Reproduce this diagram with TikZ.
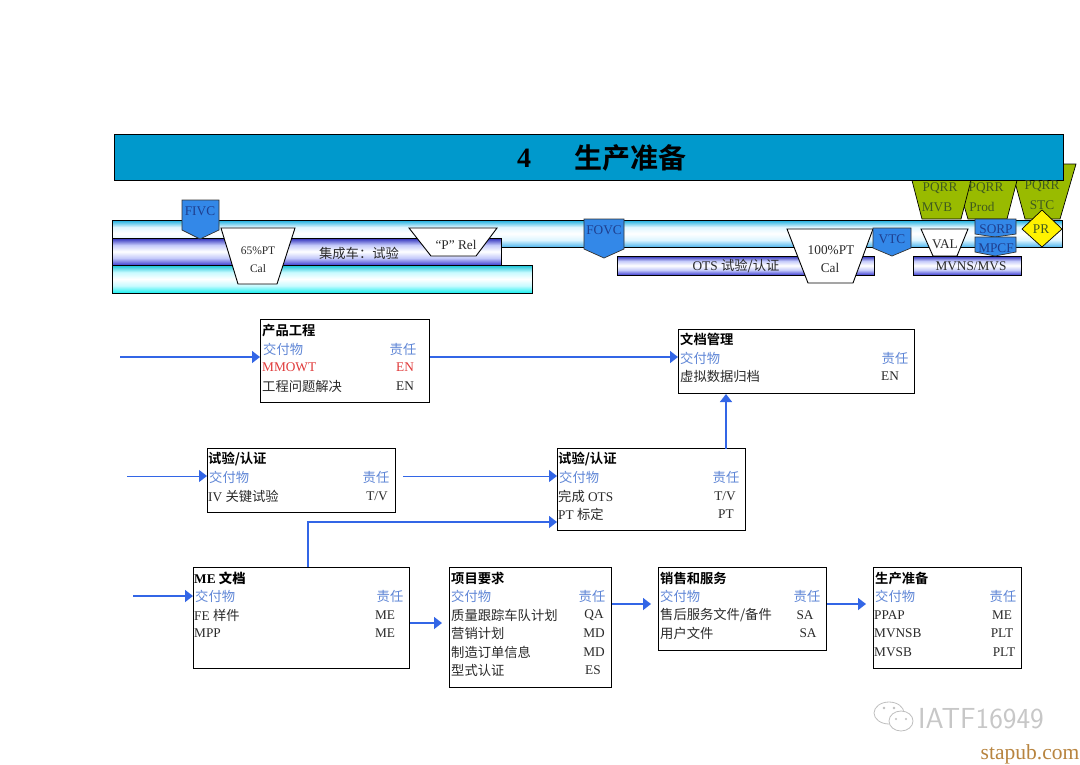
\documentclass[tikz,border=0pt]{standalone}
\usepackage{fontspec}
\usetikzlibrary{arrows.meta,calc}
\setmainfont{Liberation Serif}
\newfontfamily\cjk{Noto Sans CJK SC}
\newfontfamily\cjkb{Noto Sans CJK SC Bold}
\newcommand{\C}[1]{{\cjk #1}}
\newcommand{\CB}[1]{{\cjkb #1}}
\definecolor{titleblue}{HTML}{0099CC}
\definecolor{chipblue}{HTML}{3388E8}
\definecolor{chiptext}{HTML}{1F3F8F}
\definecolor{pqgreen}{HTML}{99BB00}
\definecolor{pqtext}{HTML}{3F5A1F}
\definecolor{arrowblue}{HTML}{3366E6}
\definecolor{headblue}{HTML}{5F86D6}
\definecolor{mmred}{HTML}{E03A3A}
\definecolor{bodygrey}{HTML}{2A2A2A}
\definecolor{stapubbrown}{HTML}{B8843F}
\definecolor{barA}{HTML}{14ACDE}
\definecolor{barB}{HTML}{4FB6EE}
\definecolor{barC}{HTML}{DDF5FF}
\definecolor{barD}{HTML}{2828B8}
\definecolor{barE}{HTML}{4040D2}
\definecolor{barF}{HTML}{C4CAFA}
\definecolor{barG}{HTML}{10C0D4}
\definecolor{barH}{HTML}{18F0F0}
\definecolor{barI}{HTML}{C8FAFF}
\pgfdeclareverticalshading{barsky}{100bp}{color(0bp)=(barB);color(25bp)=(barB);color(38bp)=(barC);color(50bp)=(white);color(62bp)=(barC);color(75bp)=(barA);color(100bp)=(barA)}
\pgfdeclareverticalshading{barviolet}{100bp}{color(0bp)=(barE);color(25bp)=(barE);color(38bp)=(barF);color(50bp)=(white);color(62bp)=(barF);color(75bp)=(barD);color(100bp)=(barD)}
\pgfdeclareverticalshading{barcyan}{100bp}{color(0bp)=(barH);color(25bp)=(barH);color(38bp)=(barI);color(50bp)=(white);color(62bp)=(barI);color(75bp)=(barG);color(100bp)=(barG)}
\newcount\tcnt
\newcommand{\TX}[4][]{\global\advance\tcnt by 1 \node[txt,#1] (t\the\tcnt) at (#2,#3) {#4};}
\newcommand{\TL}[4][bodygrey]{\global\advance\tcnt by 1 \node[txt,anchor=west,text=#1] (t\the\tcnt) at (#2,#3) {#4};}
\tikzset{
 txt/.style={inner sep=0pt,font=\fontsize{13.3}{15}\selectfont},
 barshape/.style={draw=black,line width=.9pt},
 flow/.style={draw=black,line width=1pt,fill=white,inner sep=0pt},
 chip/.style={draw=black!80,line width=.7pt,fill=chipblue},
 trap/.style={draw=black,line width=.9pt,fill=white},
 pq/.style={draw=black,line width=.7pt,fill=pqgreen},
 link/.style={draw=arrowblue,line width=1.5pt,-{Triangle[length=8pt,width=12pt]}},
 linkthin/.style={draw=arrowblue,line width=1pt,-{Triangle[length=8pt,width=12pt]}},
 gapped/.style={shorten >=7pt},
}
\begin{document}
\begin{tikzpicture}[x=1pt,y=-1pt]
\useasboundingbox[fill=white] (0,0) rectangle (1080,764);
% PQRR behind title
\draw[pq] (1010,164) -- (1076,164) -- (1060,219) -- (1025,219) -- cycle;
\draw[pq] (952,165) -- (1021,165) -- (1007,219) -- (968,219) -- cycle;
\draw[pq] (908,165) -- (975,165) -- (961,219) -- (922,219) -- cycle;
% title
\node[draw=black,line width=.8pt,fill=titleblue,minimum width=949.5pt,minimum height=46.5pt,inner sep=0pt] (title) at (589,157.3) {};
\TX[font=\fontsize{28}{30}\selectfont\bfseries]{524}{158}{4}
\TX[font=\fontsize{28}{30}\selectfont]{630}{158}{\CB{生产准备}}
% bars
\path[barshape,shading=barsky] (112.5,220) rectangle (1062.5,247);
\path[barshape,shading=barviolet] (112.5,238) rectangle (501.5,265);
\path[barshape,shading=barcyan] (112.5,265) rectangle (532.5,293);
\path[barshape,shading=barviolet] (617.5,256) rectangle (874.5,275);
\TX[text=bodygrey]{359}{253}{\C{集成车：试验}}
\TX[text=bodygrey]{736}{266}{OTS \C{试验/认证}}
% trapezoids
\draw[trap] (221,228) -- (295,228) -- (277,284) -- (238,284) -- cycle;
\TX[font=\fontsize{11.5}{13}\selectfont,text=bodygrey]{258}{251}{65\%PT}
\TX[font=\fontsize{11.5}{13}\selectfont,text=bodygrey]{258}{269}{Cal}
\draw[trap] (409,228) -- (497,228) -- (476,256) -- (431,256) -- cycle;
\TX[text=bodygrey]{456}{245}{“P” Rel}
\draw[trap] (787,229) -- (873,229) -- (853,283) -- (808,283) -- cycle;
\TX[text=bodygrey]{831}{250}{100\%PT}
\TX[text=bodygrey]{830}{268}{Cal}
\draw[trap] (921,229) -- (968,229) -- (957,256) -- (933,256) -- cycle;
\TX[text=bodygrey]{945}{244}{VAL}
\path[barshape,shading=barviolet] (913.5,256) rectangle (1021.5,275);
\TX[text=bodygrey]{971}{266}{MVNS/MVS}
% chips
\draw[chip] (182,200) -- (219,200) -- (219,230) -- (200,239) -- (182,230) -- cycle;
\TX[text=chiptext]{200}{211}{FIVC}
\draw[chip] (584,219) -- (624,219) -- (624,249) -- (604,258) -- (584,249) -- cycle;
\TX[text=chiptext]{604}{230}{FOVC}
\draw[chip] (873,228) -- (911,228) -- (911,248) -- (892,256) -- (873,248) -- cycle;
\TX[text=chiptext]{892}{239}{VTC}
% pqrr text
\TX[text=pqtext]{940}{188}{PQRR}
\TX[text=pqtext]{937}{207}{MVB}
\TX[text=pqtext]{986}{188}{PQRR}
\TX[text=pqtext]{982}{207}{Prod}
\TX[text=pqtext]{1042}{186}{PQRR}
\TX[text=pqtext]{1042}{205}{STC}
\draw[chip] (975,219) -- (1016,219) -- (1016,234) -- (995,237) -- (975,234) -- cycle;
\TX[text=chiptext]{996}{229}{SORP}
\draw[chip] (975,237) -- (1016,237) -- (1016,252) -- (995,256) -- (975,252) -- cycle;
\TX[text=chiptext]{996}{248}{MPCF}
\draw[draw=black,line width=.7pt,fill=yellow] (1022,229) -- (1042,210) -- (1062,229) -- (1042,247) -- cycle;
\TX[text=pqtext]{1041}{229}{PR}
% flow boxes
\node[flow,minimum width=169pt,minimum height=83pt] (prod) at (345,361) {};
\node[flow,minimum width=236pt,minimum height=64pt] (doc) at (796.5,361.5) {};
\node[flow,minimum width=188pt,minimum height=64pt] (testa) at (301.5,480.5) {};
\node[flow,minimum width=188pt,minimum height=82pt] (testb) at (651.5,489.5) {};
\node[flow,minimum width=216pt,minimum height=101pt] (me) at (301.5,618) {};
\node[flow,minimum width=162pt,minimum height=120pt] (req) at (530.5,627.5) {};
\node[flow,minimum width=168pt,minimum height=83pt] (sales) at (742.5,609) {};
\node[flow,minimum width=148pt,minimum height=101pt] (prep) at (947.5,618) {};
% prod
\TL[black]{262}{330}{\CB{产品工程}}
\TL[headblue]{263}{349}{\C{交付物}}
\TX[text=headblue]{403}{349}{\C{责任}}
\TL[mmred]{262}{367}{MMOWT}
\TX[text=mmred]{405}{367}{EN}
\TL{262}{386}{\C{工程问题解决}}
\TX[text=bodygrey]{405}{386}{EN}
% doc
\TL[black]{680}{339}{\CB{文档管理}}
\TL[headblue]{680}{358}{\C{交付物}}
\TX[text=headblue]{895}{358}{\C{责任}}
\TL{680}{376}{\C{虚拟数据归档}}
\TX[text=bodygrey]{890}{376}{EN}
% testa
\TL[black]{208}{459}{\CB{试验/认证}}
\TL[headblue]{209}{477}{\C{交付物}}
\TX[text=headblue]{376}{477}{\C{责任}}
\TL{208}{496}{IV \C{关键试验}}
\TX[text=bodygrey]{377}{496}{T/V}
% testb
\TL[black]{558}{459}{\CB{试验/认证}}
\TL[headblue]{559}{477}{\C{交付物}}
\TX[text=headblue]{726}{477}{\C{责任}}
\TL{558}{496}{\C{完成} OTS}
\TX[text=bodygrey]{725}{496}{T/V}
\TL{558}{514}{PT \C{标定}}
\TX[text=bodygrey]{726}{514}{PT}
% me
\TL[black]{194}{578}{\bfseries ME \CB{文档}}
\TL[headblue]{195}{596}{\C{交付物}}
\TX[text=headblue]{390}{596}{\C{责任}}
\TL{194}{615}{FE \C{样件}}
\TX[text=bodygrey]{385}{615}{ME}
\TL{194}{633}{MPP}
\TX[text=bodygrey]{385}{633}{ME}
% req
\TL[black]{451}{578}{\CB{项目要求}}
\TL[headblue]{451}{596}{\C{交付物}}
\TX[text=headblue]{592}{596}{\C{责任}}
\TL{451}{615}{\C{质量跟踪车队计划}}
\TX[text=bodygrey]{594}{615}{QA}
\TL{451}{633}{\C{营销计划}}
\TX[text=bodygrey]{594}{633}{MD}
\TL{451}{652}{\C{制造订单信息}}
\TX[text=bodygrey]{594}{652}{MD}
\TL{451}{670}{\C{型式认证}}
\TX[text=bodygrey]{593}{670}{ES}
% sales
\TL[black]{660}{578}{\CB{销售和服务}}
\TL[headblue]{660}{596}{\C{交付物}}
\TX[text=headblue]{807}{596}{\C{责任}}
\TL{660}{615}{\C{售后服务文件/备件}}
\TX[text=bodygrey]{805}{615}{SA}
\TL{660}{633}{\C{用户文件}}
\TX[text=bodygrey]{808}{633}{SA}
% prep
\TL[black]{875}{578}{\CB{生产准备}}
\TL[headblue]{875}{596}{\C{交付物}}
\TX[text=headblue]{1003}{596}{\C{责任}}
\TL{874}{615}{PPAP}
\TX[text=bodygrey]{1002}{615}{ME}
\TL{874}{633}{MVNSB}
\TX[text=bodygrey]{1002}{633}{PLT}
\TL{874}{652}{MVSB}
\TX[text=bodygrey]{1004}{652}{PLT}
% connectors
\coordinate (inprod) at (120,357);
\coordinate (intesta) at (127,476);
\coordinate (startb) at (403,476);
\coordinate (inme) at (133,596);
\coordinate (upb) at (726,449);
\coordinate (rise) at (308,522);
\coordinate (meout) at (410,623);
\coordinate (reqout) at (612,604);
\draw[link] (inprod) -- (inprod -| prod.west);
\draw[link] (inprod -| prod.east) -- (inprod -| doc.west);
\draw[linkthin] (intesta) -- (intesta -| testa.west);
\draw[linkthin] (startb) -- (startb -| testb.west);
\draw[link] (upb) -- (upb |- doc.south);
\draw[link] (rise |- me.north) -- (rise) -- (rise -| testb.west);
\draw[link] (inme) -- (inme -| me.west);
\draw[link,gapped] (meout) -- (meout -| req.west);
\draw[link,gapped] (reqout) -- (reqout -| sales.west);
\draw[link,gapped] (reqout -| sales.east) -- (reqout -| prep.west);
% watermark
\begin{scope}[draw=black!25,line width=.8pt]
\draw (889,713) ellipse (15pt and 11pt);
\draw[fill=white] (901,721) ellipse (12pt and 10pt);
\fill[black!25] (884,708) circle (1.3pt) (894,708) circle (1.3pt) (896,719) circle (1.2pt) (906,719) circle (1.2pt);
\end{scope}
\TX[font=\fontsize{29}{31}\selectfont\sffamily,text=black!22]{981}{719}{IATF16949}
\TX[font=\fontsize{21.5}{23}\selectfont,text=stapubbrown]{1030}{754}{stapub.com}
\end{tikzpicture}
\end{document}
